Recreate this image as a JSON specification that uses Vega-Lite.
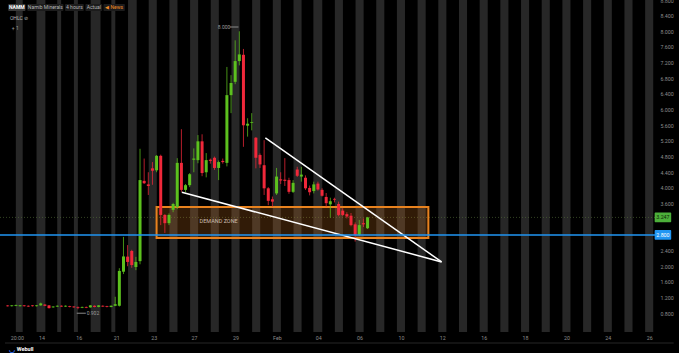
{
"$schema": "https://vega.github.io/schema/vega-lite/v6.json",
"width": 658, "height": 332,
"autosize": {"type": "none"},
"padding": {"left": 0, "top": 0, "right": 21, "bottom": 21},
"background": "#000000",
"config": {"view": {"stroke": null}, "font": "Roboto", "text": {"font": "Roboto"}, "axis": {"labelOverlap": false, "labelFlush": false}},
"datasets": {
"one": [{}],
"candles": [
{"k":0,"o":1.00,"h":1.01,"l":0.97,"c":0.98},
{"k":1,"o":0.98,"h":1.01,"l":0.97,"c":1.00},
{"k":2,"o":0.99,"h":1.02,"l":0.98,"c":1.01},
{"k":3,"o":0.98,"h":1.01,"l":0.97,"c":1.00},
{"k":4,"o":1.00,"h":1.01,"l":0.97,"c":0.98},
{"k":5,"o":0.99,"h":1.00,"l":0.96,"c":0.97},
{"k":6,"o":1.00,"h":1.01,"l":0.97,"c":0.98},
{"k":7,"o":0.98,"h":1.01,"l":0.97,"c":1.00},
{"k":8,"o":1.00,"h":1.07,"l":0.99,"c":1.05},
{"k":9,"o":1.02,"h":1.03,"l":0.98,"c":0.99},
{"k":10,"o":1.00,"h":1.01,"l":0.92,"c":0.93},
{"k":11,"o":0.95,"h":0.98,"l":0.94,"c":0.97},
{"k":12,"o":0.97,"h":1.00,"l":0.96,"c":0.99},
{"k":13,"o":0.99,"h":1.00,"l":0.96,"c":0.97},
{"k":14,"o":0.97,"h":1.00,"l":0.96,"c":0.99},
{"k":15,"o":0.98,"h":0.99,"l":0.95,"c":0.96},
{"k":16,"o":0.97,"h":0.98,"l":0.94,"c":0.95},
{"k":17,"o":0.96,"h":0.97,"l":0.902,"c":0.94},
{"k":18,"o":0.94,"h":0.97,"l":0.93,"c":0.96},
{"k":19,"o":0.96,"h":0.97,"l":0.93,"c":0.94},
{"k":20,"o":0.95,"h":1.01,"l":0.94,"c":1.00},
{"k":21,"o":0.99,"h":1.00,"l":0.95,"c":0.96},
{"k":22,"o":0.96,"h":1.01,"l":0.95,"c":1.00},
{"k":23,"o":0.99,"h":1.00,"l":0.96,"c":0.97},
{"k":24,"o":0.98,"h":0.99,"l":0.95,"c":0.96},
{"k":25,"o":0.96,"h":1.00,"l":0.95,"c":0.99},
{"k":26,"o":0.99,"h":1.22,"l":0.98,"c":1.03},
{"k":27,"o":0.99,"h":1.95,"l":0.97,"c":1.88},
{"k":28,"o":1.86,"h":2.75,"l":1.80,"c":2.25},
{"k":29,"o":2.245,"h":2.54,"l":2.00,"c":2.11},
{"k":30,"o":2.39,"h":2.42,"l":1.96,"c":2.03},
{"k":31,"o":1.98,"h":2.24,"l":1.90,"c":2.11},
{"k":32,"o":2.13,"h":5.00,"l":2.05,"c":4.20},
{"k":33,"o":4.18,"h":4.75,"l":4.10,"c":4.12},
{"k":34,"o":4.09,"h":4.40,"l":3.82,"c":4.05},
{"k":35,"o":4.50,"h":4.66,"l":4.08,"c":4.44},
{"k":36,"o":4.45,"h":4.84,"l":4.40,"c":4.82},
{"k":37,"o":4.82,"h":4.85,"l":3.05,"c":3.31},
{"k":38,"o":3.31,"h":3.33,"l":2.85,"c":3.10},
{"k":39,"o":3.10,"h":3.35,"l":3.05,"c":3.31},
{"k":40,"o":3.44,"h":3.62,"l":3.38,"c":3.59},
{"k":41,"o":3.51,"h":4.76,"l":3.46,"c":4.64},
{"k":42,"o":4.64,"h":5.50,"l":3.90,"c":3.95},
{"k":43,"o":3.95,"h":4.10,"l":3.89,"c":4.07},
{"k":44,"o":4.07,"h":4.38,"l":4.02,"c":4.35},
{"k":45,"o":4.72,"h":5.01,"l":4.40,"c":4.75},
{"k":46,"o":4.71,"h":5.35,"l":4.63,"c":5.19},
{"k":47,"o":5.19,"h":5.37,"l":4.30,"c":4.38},
{"k":48,"o":4.40,"h":4.89,"l":4.27,"c":4.71},
{"k":49,"o":4.72,"h":4.75,"l":4.62,"c":4.69},
{"k":50,"o":4.77,"h":4.80,"l":4.46,"c":4.51},
{"k":51,"o":4.51,"h":4.70,"l":4.20,"c":4.66},
{"k":52,"o":4.69,"h":4.75,"l":4.62,"c":4.66},
{"k":53,"o":4.64,"h":7.09,"l":4.55,"c":6.37},
{"k":54,"o":6.37,"h":6.88,"l":5.91,"c":6.68},
{"k":55,"o":6.71,"h":7.77,"l":6.65,"c":7.24},
{"k":56,"o":7.24,"h":8.00,"l":7.13,"c":7.41},
{"k":57,"o":7.40,"h":7.55,"l":5.05,"c":5.60},
{"k":58,"o":5.59,"h":5.78,"l":5.31,"c":5.64},
{"k":59,"o":5.66,"h":5.91,"l":5.47,"c":5.68},
{"k":60,"o":5.28,"h":5.30,"l":4.50,"c":4.77},
{"k":61,"o":4.84,"h":4.88,"l":4.51,"c":4.60},
{"k":62,"o":4.58,"h":5.22,"l":3.82,"c":3.99},
{"k":63,"o":3.99,"h":4.02,"l":3.56,"c":3.67},
{"k":64,"o":3.71,"h":3.78,"l":3.52,"c":3.65},
{"k":65,"o":3.86,"h":4.51,"l":3.82,"c":4.29},
{"k":66,"o":4.22,"h":4.40,"l":4.10,"c":4.19},
{"k":67,"o":4.21,"h":4.76,"l":4.05,"c":4.18},
{"k":68,"o":4.20,"h":4.26,"l":3.85,"c":3.90},
{"k":69,"o":3.90,"h":4.20,"l":3.87,"c":4.13},
{"k":70,"o":4.47,"h":4.54,"l":4.28,"c":4.31},
{"k":71,"o":4.29,"h":4.54,"l":4.16,"c":4.34},
{"k":72,"o":4.26,"h":4.32,"l":3.95,"c":3.99},
{"k":73,"o":4.00,"h":4.06,"l":3.81,"c":3.89},
{"k":74,"o":3.92,"h":4.16,"l":3.86,"c":4.09},
{"k":75,"o":4.11,"h":4.16,"l":3.93,"c":3.96},
{"k":76,"o":3.95,"h":3.99,"l":3.78,"c":3.80},
{"k":77,"o":3.77,"h":3.87,"l":3.52,"c":3.61},
{"k":78,"o":3.58,"h":3.75,"l":3.24,"c":3.66},
{"k":79,"o":3.72,"h":3.75,"l":3.63,"c":3.70},
{"k":80,"o":3.59,"h":3.65,"l":3.28,"c":3.31},
{"k":81,"o":3.42,"h":3.48,"l":3.28,"c":3.31},
{"k":82,"o":3.33,"h":3.38,"l":3.22,"c":3.27},
{"k":83,"o":3.29,"h":3.36,"l":3.02,"c":3.05},
{"k":84,"o":3.07,"h":3.12,"l":2.63,"c":2.80},
{"k":85,"o":2.80,"h":3.18,"l":2.77,"c":3.05},
{"k":86,"o":3.10,"h":3.22,"l":3.00,"c":3.07},
{"k":87,"o":2.97,"h":3.26,"l":2.95,"c":3.247}
],
"bands": [
{"s":1.98,"e":3.64},{"s":6.98,"e":9.12},{"s":11.98,"e":12.93},{"s":16.02,"e":16.98},{"s":20.07,"e":22.45},{"s":25.07,"e":26.02},
{"s":29.1,"e":31.2},{"s":34.1,"e":36.05},{"s":39.1,"e":41.05},{"s":44.1,"e":46.05},{"s":49.1,"e":51.05},{"s":54.1,"e":56.05},
{"s":59.1,"e":61.05},{"s":64.1,"e":66.05},{"s":69.1,"e":71.05},{"s":73.9,"e":76.05},{"s":79.1,"e":81.05},{"s":84.1,"e":86.05},
{"s":89.1,"e":91.05},{"s":94.1,"e":96.05},{"s":99.1,"e":101.05},{"s":104.1,"e":106.05},{"s":109.1,"e":111.05},{"s":114.1,"e":116.05},
{"s":119.1,"e":121.05},{"s":124.1,"e":126.05},{"s":129.1,"e":131.05},{"s":134.1,"e":136.05},{"s":139.1,"e":141.05},{"s":144.1,"e":146.05},
{"s":149.1,"e":151.05},{"s":154.1,"e":156.05}
]
},
"layer": [
{"data": {"name": "bands"},
 "mark": {"type": "rect", "color": "#272727"},
 "encoding": {
  "x": {"field": "s", "type": "quantitative", "title": null,
        "scale": {"domain": [-0.64, 156.0], "nice": false, "zero": false},
        "axis": {"orient": "bottom", "title": null, "tickCount": 40, "values": [2.21,8.17,17.21,26.26,35.31,45.07,55.07,65.07,75.07,85.07,95.07,105.07,115.07,125.07,135.07,145.07,155.07],
                 "labelExpr": "['20:00','14','16','21','23','27','29','Feb','04','06','10','12','16','18','20','24','26'][indexof([2.21,8.17,17.21,26.26,35.31,45.07,55.07,65.07,75.07,85.07,95.07,105.07,115.07,125.07,135.07,145.07,155.07], datum.value)]",
                 "labelFontSize": 5.3, "labelFont": "Roboto", "labelColor": "#8c8c8c", "ticks": false, "domain": false, "grid": false,
                 "labelPadding": 3.5, "labelFlush": false, "labelOverlap": false}},
  "x2": {"field": "e"}}},
{"data": {"name": "one"},
 "mark": {"type": "rule", "color": "#55703a", "strokeDash": [1, 2], "strokeWidth": 1, "opacity": 0.6},
 "encoding": {"y": {"datum": 3.247, "type": "quantitative",
        "scale": {"domain": [0.32, 8.8], "nice": false, "zero": false},
        "axis": {"orient": "right", "title": null, "tickCount": 40, "values": [0.8,1.2,1.6,2.0,2.4,3.6,4.0,4.4,4.8,5.2,5.6,6.0,6.4,6.8,7.2,7.6,8.0,8.4,8.8],
            "format": ".3f", "labelFontSize": 5.3, "labelFont": "Roboto", "labelColor": "#8c8c8c", "ticks": false, "domain": false, "grid": false,
            "labelPadding": 2, "labelFlush": false, "labelOverlap": false}}}},
{"data": {"name": "one"},
 "mark": {"type": "rect", "fill": "#e07b1f", "fillOpacity": 0.22, "stroke": "#e8821e", "strokeWidth": 2, "strokeOpacity": 1},
 "encoding": {"x": {"datum": 36.0, "type": "quantitative"}, "x2": {"datum": 101.7}, "y": {"datum": 3.51, "type": "quantitative"}, "y2": {"datum": 2.72}}},
{"data": {"name": "one"},
 "mark": {"type": "text", "text": "DEMAND ZONE", "fontSize": 5.5, "color": "#cbbcad", "align": "center", "baseline": "middle"},
 "encoding": {"x": {"datum": 51.0, "type": "quantitative"}, "y": {"datum": 3.16, "type": "quantitative"}}},
{"data": {"name": "candles"},
 "mark": {"type": "rule", "strokeWidth": 1, "opacity": 0.75},
 "encoding": {
  "x": {"field": "k", "type": "quantitative", "title": null},
  "y": {"field": "l", "type": "quantitative", "title": null},
  "y2": {"field": "h"},
  "color": {"condition": {"test": "datum.c >= datum.o", "value": "#5cc01e"}, "value": "#f0283a"}}},
{"data": {"name": "candles"},
 "mark": {"type": "bar", "width": 3},
 "encoding": {
  "x": {"field": "k", "type": "quantitative", "title": null},
  "y": {"field": "o", "type": "quantitative", "title": null},
  "y2": {"field": "c"},
  "color": {"condition": {"test": "datum.c >= datum.o", "value": "#5cc01e"}, "value": "#f0283a"}}},
{"data": {"name": "one"},
 "mark": {"type": "rule", "color": "#ffffff", "strokeWidth": 1.5},
 "encoding": {"x": {"datum": 42.1, "type": "quantitative"}, "y": {"datum": 3.89, "type": "quantitative"}, "x2": {"datum": 104.9}, "y2": {"datum": 2.11}}},
{"data": {"name": "one"},
 "mark": {"type": "rule", "color": "#ffffff", "strokeWidth": 1.5},
 "encoding": {"x": {"datum": 62.3, "type": "quantitative"}, "y": {"datum": 5.28, "type": "quantitative"}, "x2": {"datum": 104.9}, "y2": {"datum": 2.11}}},
{"data": {"name": "one"},
 "mark": {"type": "rule", "color": "#2196f3", "strokeWidth": 1.5},
 "encoding": {"y": {"datum": 2.8, "type": "quantitative"}}},
{"data": {"name": "one"},
 "mark": {"type": "rect", "fill": "#4caf3a", "cornerRadius": 1},
 "encoding": {"x": {"datum": 156.4, "type": "quantitative"}, "x2": {"datum": 160.4}, "y": {"datum": 3.122, "type": "quantitative"}, "y2": {"datum": 3.372}}},
{"data": {"name": "one"},
 "mark": {"type": "text", "text": "3.247", "fontSize": 5.3, "color": "#0c2606", "align": "center", "baseline": "middle"},
 "encoding": {"x": {"datum": 158.4, "type": "quantitative"}, "y": {"datum": 3.247, "type": "quantitative"}}},
{"data": {"name": "one"},
 "mark": {"type": "rect", "fill": "#2196f3", "cornerRadius": 1},
 "encoding": {"x": {"datum": 156.4, "type": "quantitative"}, "x2": {"datum": 160.4}, "y": {"datum": 2.675, "type": "quantitative"}, "y2": {"datum": 2.925}}},
{"data": {"name": "one"},
 "mark": {"type": "text", "text": "2.800", "fontSize": 5.3, "color": "#ffffff", "align": "center", "baseline": "middle"},
 "encoding": {"x": {"datum": 158.4, "type": "quantitative"}, "y": {"datum": 2.8, "type": "quantitative"}}},
{"data": {"name": "one"},
 "mark": {"type": "text", "text": "8.000", "fontSize": 5, "color": "#9a9a9a", "align": "left", "baseline": "middle"},
 "encoding": {"x": {"datum": 50.8, "type": "quantitative"}, "y": {"datum": 8.11, "type": "quantitative"}}},
{"data": {"name": "one"},
 "mark": {"type": "rule", "color": "#8a8a8a", "strokeWidth": 1},
 "encoding": {"x": {"datum": 53.7, "type": "quantitative"}, "x2": {"datum": 55.8}, "y": {"datum": 8.11, "type": "quantitative"}}},
{"data": {"name": "one"},
 "mark": {"type": "text", "text": "0.902", "fontSize": 5, "color": "#9a9a9a", "align": "left", "baseline": "middle"},
 "encoding": {"x": {"datum": 19.1, "type": "quantitative"}, "y": {"datum": 0.80, "type": "quantitative"}}},
{"data": {"name": "one"},
 "mark": {"type": "rule", "color": "#8a8a8a", "strokeWidth": 1},
 "encoding": {"x": {"datum": 16.7, "type": "quantitative"}, "x2": {"datum": 18.9}, "y": {"datum": 0.80, "type": "quantitative"}}},
{"data": {"name": "one"},
 "mark": {"type": "rect", "fill": "#3a3a3a", "cornerRadius": 1},
 "encoding": {"x": {"datum": 0.14, "type": "quantitative"}, "x2": {"datum": 4.29}, "y": {"datum": 8.52, "type": "quantitative"}, "y2": {"datum": 8.70}}},
{"data": {"name": "one"},
 "mark": {"type": "rect", "fill": "#1c1c1c", "cornerRadius": 1},
 "encoding": {"x": {"datum": 4.76, "type": "quantitative"}, "x2": {"datum": 13.48}, "y": {"datum": 8.52, "type": "quantitative"}, "y2": {"datum": 8.70}}},
{"data": {"name": "one"},
 "mark": {"type": "rect", "fill": "#1c1c1c", "cornerRadius": 1},
 "encoding": {"x": {"datum": 13.88, "type": "quantitative"}, "x2": {"datum": 18.40}, "y": {"datum": 8.52, "type": "quantitative"}, "y2": {"datum": 8.70}}},
{"data": {"name": "one"},
 "mark": {"type": "rect", "fill": "#1c1c1c", "cornerRadius": 1},
 "encoding": {"x": {"datum": 18.81, "type": "quantitative"}, "x2": {"datum": 22.86}, "y": {"datum": 8.52, "type": "quantitative"}, "y2": {"datum": 8.70}}},
{"data": {"name": "one"},
 "mark": {"type": "rect", "fill": "#1c1c1c", "cornerRadius": 1},
 "encoding": {"x": {"datum": 23.17, "type": "quantitative"}, "x2": {"datum": 28.33}, "y": {"datum": 8.52, "type": "quantitative"}, "y2": {"datum": 8.70}}},
{"data": {"name": "one"},
 "mark": {"type": "text", "text": "NAMM", "fontSize": 5, "fontWeight": "bold", "color": "#ffffff", "align": "center", "baseline": "middle"},
 "encoding": {"x": {"datum": 2.21, "type": "quantitative"}, "y": {"datum": 8.61, "type": "quantitative"}}},
{"data": {"name": "one"},
 "mark": {"type": "text", "text": "Namib Minerals", "fontSize": 5, "color": "#b5b5b5", "align": "center", "baseline": "middle"},
 "encoding": {"x": {"datum": 9.12, "type": "quantitative"}, "y": {"datum": 8.61, "type": "quantitative"}}},
{"data": {"name": "one"},
 "mark": {"type": "text", "text": "4 hours", "fontSize": 5, "color": "#b5b5b5", "align": "center", "baseline": "middle"},
 "encoding": {"x": {"datum": 16.14, "type": "quantitative"}, "y": {"datum": 8.61, "type": "quantitative"}}},
{"data": {"name": "one"},
 "mark": {"type": "text", "text": "Actual", "fontSize": 5, "color": "#b5b5b5", "align": "center", "baseline": "middle"},
 "encoding": {"x": {"datum": 20.83, "type": "quantitative"}, "y": {"datum": 8.61, "type": "quantitative"}}},
{"data": {"name": "one"},
 "mark": {"type": "text", "text": "◀ News", "fontSize": 5, "color": "#f08a24", "align": "center", "baseline": "middle"},
 "encoding": {"x": {"datum": 25.75, "type": "quantitative"}, "y": {"datum": 8.61, "type": "quantitative"}}},
{"data": {"name": "one"},
 "mark": {"type": "text", "text": "OHLC ⊘", "fontSize": 5, "color": "#b5b5b5", "align": "left", "baseline": "middle"},
 "encoding": {"x": {"datum": 0.55, "type": "quantitative"}, "y": {"datum": 8.34, "type": "quantitative"}}},
{"data": {"name": "one"},
 "mark": {"type": "text", "text": "+ 1", "fontSize": 5, "color": "#9a9a9a", "align": "left", "baseline": "middle"},
 "encoding": {"x": {"datum": 1.02, "type": "quantitative"}, "y": {"datum": 8.09, "type": "quantitative"}}},
{"data": {"name": "one"},
 "mark": {"type": "rule", "color": "#262626", "strokeWidth": 1},
 "encoding": {"x": {"datum": -0.64, "type": "quantitative"}, "x2": {"datum": 161.0}, "y": {"datum": 0.039, "type": "quantitative"}}},
{"data": {"name": "one"},
 "mark": {"type": "text", "text": "◡", "fontSize": 7, "fontWeight": "bold", "color": "#2e6ff2", "align": "center", "baseline": "middle"},
 "encoding": {"x": {"datum": 1.0, "type": "quantitative"}, "y": {"datum": -0.13, "type": "quantitative"}}},
{"data": {"name": "one"},
 "mark": {"type": "text", "text": "Webull", "fontSize": 5.5, "fontWeight": "bold", "color": "#ffffff", "align": "left", "baseline": "middle"},
 "encoding": {"x": {"datum": 2.21, "type": "quantitative"}, "y": {"datum": -0.11, "type": "quantitative"}}}
]
}
